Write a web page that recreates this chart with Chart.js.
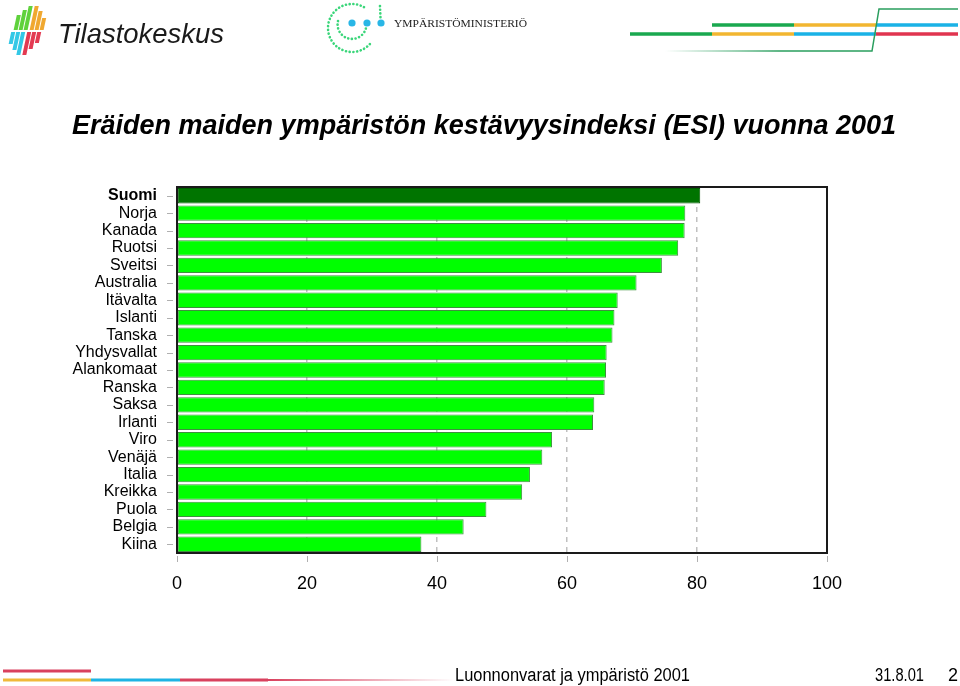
<!DOCTYPE html>
<html>
<head>
<meta charset="utf-8">
<script src="https://cdn.jsdelivr.net/npm/chart.js@4.4.1/dist/chart.umd.min.js"></script>
<style>
  html, body { margin: 0; padding: 0; background: #fff; }
  #wrap { position: relative; width: 960px; height: 686px; overflow: hidden; }
  #c { position: absolute; left: 0; top: 0; }
  #deco { position: absolute; left: 0; top: 0; pointer-events: none; }
</style>
</head>
<body>
<div id="wrap">
<canvas id="c" width="960" height="686"></canvas>
<svg id="deco" width="960" height="686" xmlns="http://www.w3.org/2000/svg">
  <defs>
    <linearGradient id="fadeG" gradientUnits="userSpaceOnUse" x1="665" y1="0" x2="780" y2="0">
      <stop offset="0" stop-color="#2a9e5e" stop-opacity="0"/>
      <stop offset="1" stop-color="#2a9e5e" stop-opacity="1"/>
    </linearGradient>
    <linearGradient id="fadeR" gradientUnits="userSpaceOnUse" x1="268" y1="0" x2="455" y2="0">
      <stop offset="0" stop-color="#d9415e" stop-opacity="1"/>
      <stop offset="1" stop-color="#d9415e" stop-opacity="0"/>
    </linearGradient>
  </defs>
  <!-- Tilastokeskus logo -->
  <g transform="skewX(-12) translate(6,0)">
    <rect x="14" y="15" width="4" height="15" fill="#5fd23c"/>
    <rect x="19" y="10" width="4" height="20" fill="#5fd23c"/>
    <rect x="24" y="6" width="4" height="24" fill="#5fd23c"/>
    <rect x="30" y="6" width="4" height="24" fill="#f0a830"/>
    <rect x="35" y="11" width="4" height="19" fill="#f0a830"/>
    <rect x="40" y="18" width="4" height="12" fill="#f0a830"/>
    <rect x="12" y="32" width="4" height="12" fill="#33c8e6"/>
    <rect x="17" y="32" width="4" height="18" fill="#33c8e6"/>
    <rect x="22" y="32" width="4" height="23" fill="#33c8e6"/>
    <rect x="28" y="32" width="4" height="23" fill="#e33a52"/>
    <rect x="33" y="32" width="4" height="17" fill="#e33a52"/>
    <rect x="38" y="32" width="4" height="11" fill="#e33a52"/>
  </g>
  <text x="58" y="43" font-family="Liberation Sans" font-style="italic" font-size="28" fill="#1a1a1a" textLength="166" lengthAdjust="spacingAndGlyphs">Tilastokeskus</text>
  <!-- Ministry logo -->
  <path d="M 364 7.2 A 24 24 0 1 0 370.4 43.4" fill="none" stroke="#3ad67a" stroke-width="2.6" stroke-dasharray="0.1 3.6" stroke-linecap="round"/>
  <path d="M 338 21 A 14 14 0 0 0 366 28" fill="none" stroke="#3ad67a" stroke-width="2.6" stroke-dasharray="0.1 3.6" stroke-linecap="round"/>
  <path d="M 380 6 L 380.5 18" fill="none" stroke="#3ad67a" stroke-width="2.6" stroke-dasharray="0.1 3.6" stroke-linecap="round"/>
  <circle cx="352" cy="23" r="3.6" fill="#29b6e6"/>
  <circle cx="367" cy="23" r="3.6" fill="#29b6e6"/>
  <circle cx="381" cy="23" r="3.6" fill="#29b6e6"/>
  <text x="394" y="27" font-family="Liberation Serif" font-size="11" fill="#222" textLength="133" lengthAdjust="spacingAndGlyphs">YMPÄRISTÖMINISTERIÖ</text>
  <!-- top right lines -->
  <line x1="712" y1="25" x2="794" y2="25" stroke="#1aa84f" stroke-width="3.5"/>
  <line x1="794" y1="25" x2="876" y2="25" stroke="#f2b630" stroke-width="3.5"/>
  <line x1="876" y1="25" x2="958" y2="25" stroke="#1ab2e6" stroke-width="3.5"/>
  <line x1="630" y1="34" x2="712" y2="34" stroke="#1aa84f" stroke-width="3.5"/>
  <line x1="712" y1="34" x2="794" y2="34" stroke="#f2b630" stroke-width="3.5"/>
  <line x1="794" y1="34" x2="876" y2="34" stroke="#1ab2e6" stroke-width="3.5"/>
  <line x1="876" y1="34" x2="958" y2="34" stroke="#e0344f" stroke-width="3.5"/>
  <path d="M 958 9 L 879 9 L 872 51 L 780 51" fill="none" stroke="#2a9e5e" stroke-width="1.5"/>
  <line x1="665" y1="51" x2="780" y2="51" stroke="url(#fadeG)" stroke-width="1.5"/>
  <!-- title -->
  <text x="72" y="134" font-family="Liberation Sans" font-weight="bold" font-style="italic" font-size="28" fill="#000" textLength="824" lengthAdjust="spacingAndGlyphs">Eräiden maiden ympäristön kestävyysindeksi (ESI) vuonna 2001</text>
  <!-- footer -->
  <line x1="3" y1="671" x2="91" y2="671" stroke="#d9415e" stroke-width="3"/>
  <line x1="3" y1="680" x2="91" y2="680" stroke="#f0b93a" stroke-width="3"/>
  <line x1="91" y1="680" x2="180" y2="680" stroke="#1eb4e4" stroke-width="3"/>
  <line x1="180" y1="680" x2="268" y2="680" stroke="#d9415e" stroke-width="3"/>
  <line x1="268" y1="680" x2="455" y2="680" stroke="url(#fadeR)" stroke-width="2"/>
  <text x="455" y="681" font-family="Liberation Sans" font-size="18" fill="#000" textLength="235" lengthAdjust="spacingAndGlyphs">Luonnonvarat ja ympäristö 2001</text>
  <text x="875" y="681" font-family="Liberation Sans" font-size="18" fill="#000" textLength="49" lengthAdjust="spacingAndGlyphs">31.8.01</text>
  <text x="948" y="681" font-family="Liberation Sans" font-size="18" fill="#000">2</text>
</svg>
</div>
<script>
const categories = ["Suomi","Norja","Kanada","Ruotsi","Sveitsi","Australia","Itävalta","Islanti","Tanska","Yhdysvallat","Alankomaat","Ranska","Saksa","Irlanti","Viro","Venäjä","Italia","Kreikka","Puola","Belgia","Kiina"];
const esiValues = [80.5, 78.2, 78.1, 77.1, 74.6, 70.7, 67.8, 67.3, 67.0, 66.1, 66.0, 65.8, 64.2, 64.0, 57.7, 56.2, 54.3, 53.1, 47.6, 44.1, 37.6];
const highlightCategory = "Suomi";
const xTickValues = [0, 20, 40, 60, 80, 100];

const CHART_LEFT = 177, CHART_RIGHT = 827, CHART_TOP = 187, CHART_BOTTOM = 553;
const FONT = "'Liberation Sans', Arial, Helvetica, sans-serif";

const framePlugin = {
  id: 'frame',
  afterDatasetsDraw(chart) {
    const ctx = chart.ctx, a = chart.chartArea;
    const xs = chart.scales.x, ys = chart.scales.y;
    ctx.save();
    ctx.strokeStyle = '#b0b0b0';
    ctx.lineWidth = 1;
    ctx.beginPath();
    categories.forEach((c, i) => {
      const y = Math.round(ys.getPixelForValue(i)) + 0.5;
      ctx.moveTo(a.left - 10, y);
      ctx.lineTo(a.left - 4, y);
    });
    xTickValues.forEach(v => {
      const x = Math.round(xs.getPixelForValue(v)) + 0.5;
      ctx.moveTo(x, a.bottom + 3);
      ctx.lineTo(x, a.bottom + 9);
    });
    ctx.stroke();
    ctx.strokeStyle = '#1a1a1a';
    ctx.lineWidth = 2;
    ctx.strokeRect(a.left, a.top, a.right - a.left, a.bottom - a.top);
    ctx.restore();
  }
};

Chart.defaults.font.family = FONT;

new Chart(document.getElementById('c'), {
  type: 'bar',
  data: {
    labels: categories,
    datasets: [{
      data: esiValues,
      backgroundColor: categories.map(c => c === highlightCategory ? '#007400' : '#00ff00'),
      borderColor: categories.map(c => c === highlightCategory ? '#005a00' : '#3f8f3f'),
      borderWidth: 1,
      borderSkipped: false,
      barPercentage: 0.88,
      categoryPercentage: 1.0
    }]
  },
  options: {
    indexAxis: 'y',
    responsive: false,
    animation: false,
    devicePixelRatio: 1,
    layout: { padding: { top: CHART_TOP, right: 960 - CHART_RIGHT, bottom: 686 - CHART_BOTTOM - 50, left: 0 } },
    plugins: { legend: { display: false }, tooltip: { enabled: false }, title: { display: false } },
    scales: {
      x: {
        type: 'linear',
        min: 0, max: 100,
        afterFit(scale) { scale.height = 50; },
        afterBuildTicks(scale) { scale.ticks = xTickValues.map(v => ({ value: v })); },
        grid: {
          drawTicks: false,
          color: ctx => (ctx.tick && (ctx.tick.value === 0 || ctx.tick.value === 100)) ? 'rgba(0,0,0,0)' : '#c0c0c0',
          lineWidth: 1.5
        },
        border: { display: false, dash: [5, 5] },
        ticks: {
          padding: 20,
          color: '#000',
          font: { family: FONT, size: 18 },
          maxRotation: 0
        }
      },
      y: {
        afterFit(scale) { scale.width = CHART_LEFT; },
        border: { display: false },
        grid: { display: false, drawTicks: false },
        ticks: {
          padding: 20,
          color: '#000',
          autoSkip: false,
          font: function (ctx) {
            return { family: FONT, size: 16, weight: ctx.index === categories.indexOf(highlightCategory) ? 'bold' : 'normal' };
          }
        }
      }
    }
  },
  plugins: [framePlugin]
});
</script>
</body>
</html>
